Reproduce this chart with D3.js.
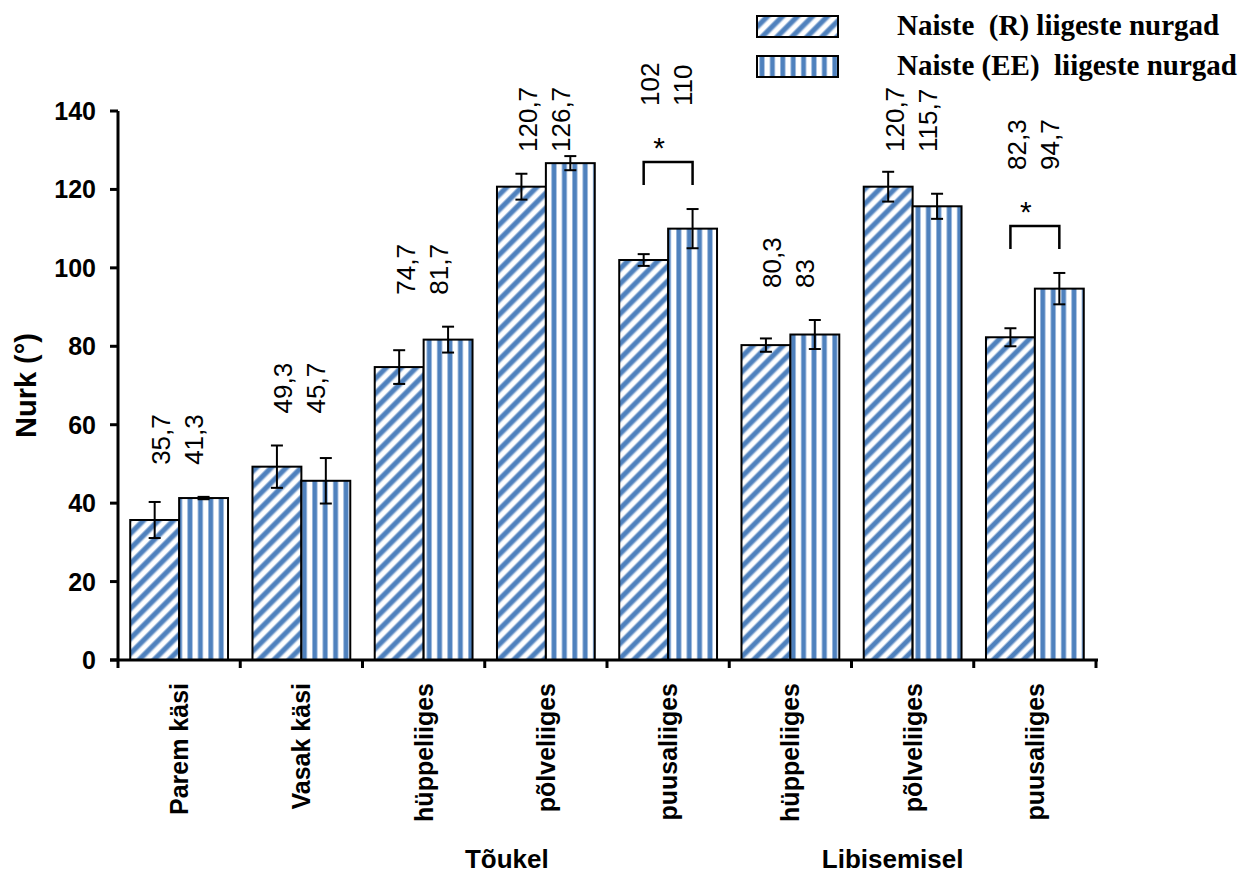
<!DOCTYPE html>
<html>
<head>
<meta charset="utf-8">
<script src="https://cdn.jsdelivr.net/npm/d3@7/dist/d3.min.js"></script>
<style>
  html, body { margin: 0; padding: 0; background: #fff; }
  svg { display: block; }
</style>
</head>
<body>
<script>
// Joint angles (degrees), mean and spread, for two groups of women
const categories = ["Parem käsi", "Vasak käsi", "hüppeliiges", "põlveliiges", "puusaliiges", "hüppeliiges", "põlveliiges", "puusaliiges"];
const seriesNames = ["Naiste  (R) liigeste nurgad", "Naiste (EE)  liigeste nurgad"];
const valuesR  = [35.7, 49.3, 74.7, 120.7, 102, 80.3, 120.7, 82.3];
const valuesEE = [41.3, 45.7, 81.7, 126.7, 110, 83, 115.7, 94.7];
const errorsR  = [4.6, 5.4, 4.3, 3.3, 1.5, 1.7, 3.8, 2.3];
const errorsEE = [0.3, 5.8, 3.3, 1.8, 5.0, 3.7, 3.2, 4.0];
const valueLabelsR  = ["35,7", "49,3", "74,7", "120,7", "102", "80,3", "120,7", "82,3"];
const valueLabelsEE = ["41,3", "45,7", "81,7", "126,7", "110", "83", "115,7", "94,7"];
const significant = [4, 7];   // category indices marked with *
const phases = [
  { name: "Tõukel", from: 2, to: 4 },
  { name: "Libisemisel", from: 5, to: 7 }
];
const yTicks = [0, 20, 40, 60, 80, 100, 120, 140];

// layout
const W = 1244, H = 879;
const phaseLabelShift = [-39, -20];
const labelCeiling = 152;   // value labels never start above this line (keeps them below the legend)
const blue = "#4f81bd";
const blueSoft = "#a7c0e0";

const svg = d3.select("body").append("svg").attr("width", W).attr("height", H)
  .style("font-family", "'Liberation Sans', Arial, sans-serif");

// fill patterns: wide upward diagonal and vertical stripes
const defs = svg.append("defs");
const pDiag = defs.append("pattern").attr("id", "pat-diag")
  .attr("patternUnits", "userSpaceOnUse").attr("width", 10.6).attr("height", 10.6)
  .attr("patternTransform", "rotate(45)");
pDiag.append("rect").attr("width", 10.6).attr("height", 10.6).attr("fill", "#fff");
pDiag.append("rect").attr("x", 0).attr("width", 6.2).attr("height", 10.6).attr("fill", blueSoft);
pDiag.append("rect").attr("x", 1).attr("width", 4.2).attr("height", 10.6).attr("fill", blue);

const pVert = defs.append("pattern").attr("id", "pat-vert")
  .attr("patternUnits", "userSpaceOnUse").attr("width", 10.4).attr("height", 10);
pVert.append("rect").attr("width", 10.4).attr("height", 10).attr("fill", "#fff");
pVert.append("rect").attr("x", 0).attr("width", 5.6).attr("height", 10).attr("fill", blueSoft);
pVert.append("rect").attr("x", 0.8).attr("width", 4).attr("height", 10).attr("fill", blue);

const fills = ["url(#pat-diag)", "url(#pat-vert)"];

const x0 = 118, x1 = 1096;
const x = d3.scaleBand().domain(d3.range(categories.length)).range([x0, x1])
  .paddingInner(0.2).paddingOuter(0.1);
const xs = d3.scaleBand().domain([0, 1]).range([0, x.bandwidth()]);
const y = d3.scaleLinear().domain([0, 140]).range([660, 111]);

const rows = categories.map((c, i) => ({
  i, c,
  vals: [valuesR[i], valuesEE[i]],
  errs: [errorsR[i], errorsEE[i]],
  labels: [valueLabelsR[i], valueLabelsEE[i]]
}));

// bars
const g = svg.append("g");
rows.forEach(r => {
  r.vals.forEach((v, s) => {
    g.append("rect")
      .attr("x", x(r.i) + xs(s))
      .attr("y", y(v))
      .attr("width", xs.bandwidth())
      .attr("height", y(0) - y(v))
      .attr("fill", fills[s])
      .attr("stroke", "#000").attr("stroke-width", 2);
  });
});

// error bars
rows.forEach(r => {
  r.vals.forEach((v, s) => {
    const cx = x(r.i) + xs(s) + xs.bandwidth() / 2;
    const e = r.errs[s];
    const eb = g.append("g").attr("stroke", "#000").attr("stroke-width", 2);
    eb.append("line").attr("x1", cx).attr("x2", cx).attr("y1", y(v - e)).attr("y2", y(v + e));
    eb.append("line").attr("x1", cx - 6).attr("x2", cx + 6).attr("y1", y(v + e)).attr("y2", y(v + e));
    eb.append("line").attr("x1", cx - 6).attr("x2", cx + 6).attr("y1", y(v - e)).attr("y2", y(v - e));
  });
});

// significance brackets and value labels
rows.forEach(r => {
  const top = d3.min(r.vals.map((v, s) => y(v + r.errs[s])));
  const cR = x(r.i) + xs(0) + xs.bandwidth() / 2;
  const cE = x(r.i) + xs(1) + xs.bandwidth() / 2;
  let labelBase = Math.max(top - 32, labelCeiling);
  if (significant.includes(r.i)) {
    const bTop = top - 47, bEnd = top - 24;
    svg.append("path")
      .attr("d", `M${cR},${bEnd}V${bTop}H${cE}V${bEnd}`)
      .attr("fill", "none").attr("stroke", "#000").attr("stroke-width", 2.5);
    svg.append("text").attr("x", (cR + cE) / 2 - 9).attr("y", bTop - 4)
      .attr("text-anchor", "middle").attr("font-size", 30).text("*");
    labelBase = bTop - 56;
  }
  const gc = x(r.i) + x.bandwidth() / 2;
  r.labels.forEach((t, s) => {
    const lx = gc + (s === 0 ? -18 : 15);
    svg.append("text")
      .attr("transform", `translate(${lx},${labelBase}) rotate(-90)`)
      .attr("dominant-baseline", "central")
      .attr("font-size", 26).attr("fill", "#000")
      .text(t);
  });
});

// y axis
const yAxis = svg.append("g");
yAxis.append("line").attr("x1", x0).attr("x2", x0).attr("y1", y(140)).attr("y2", y(0))
  .attr("stroke", "#000").attr("stroke-width", 3);
yTicks.forEach(t => {
  yAxis.append("line").attr("x1", x0 - 8).attr("x2", x0).attr("y1", y(t)).attr("y2", y(t))
    .attr("stroke", "#000").attr("stroke-width", 3);
  yAxis.append("text").attr("x", x0 - 22).attr("y", y(t)).attr("dy", "0.36em")
    .attr("text-anchor", "end").attr("font-size", 25).attr("font-weight", "bold")
    .text(t);
});
svg.append("text")
  .attr("transform", `translate(36,${(y(0) + y(140)) / 2}) rotate(-90)`)
  .attr("text-anchor", "middle").attr("font-size", 29).attr("font-weight", "bold")
  .text("Nurk (°)");

// x axis
const xAxis = svg.append("g");
xAxis.append("line").attr("x1", x0 - 8).attr("x2", x1 + 2).attr("y1", y(0)).attr("y2", y(0))
  .attr("stroke", "#000").attr("stroke-width", 3);
d3.range(categories.length + 1).forEach(k => {
  const tx = x0 + k * x.step();
  xAxis.append("line").attr("x1", tx).attr("x2", tx).attr("y1", y(0)).attr("y2", y(0) + 8)
    .attr("stroke", "#000").attr("stroke-width", 3);
});
rows.forEach(r => {
  const cx = x(r.i) + x.bandwidth() / 2;
  xAxis.append("text")
    .attr("transform", `translate(${cx},683) rotate(-90)`)
    .attr("text-anchor", "end").attr("dominant-baseline", "central")
    .attr("font-size", 25).attr("font-weight", "bold")
    .text(r.c);
});
phases.forEach((p, k) => {
  const cx = (x0 + p.from * x.step() + x0 + (p.to + 1) * x.step()) / 2 + phaseLabelShift[k];
  svg.append("text").attr("x", cx).attr("y", 868)
    .attr("text-anchor", "middle").attr("font-size", 26).attr("font-weight", "bold")
    .text(p.name);
});

// legend
const legend = svg.append("g");
seriesNames.forEach((n, s) => {
  const ly = 16 + s * 40;
  legend.append("rect").attr("x", 757).attr("y", ly).attr("width", 81).attr("height", 21)
    .attr("fill", fills[s]).attr("stroke", "#000").attr("stroke-width", 2);
  legend.append("text").attr("x", 897).attr("y", ly + 19)
    .attr("font-family", "'Liberation Serif', 'Times New Roman', serif")
    .attr("font-size", 29).attr("font-weight", "bold")
    .style("white-space", "pre").attr("xml:space", "preserve")
    .text(n);
});
</script>
</body>
</html>
